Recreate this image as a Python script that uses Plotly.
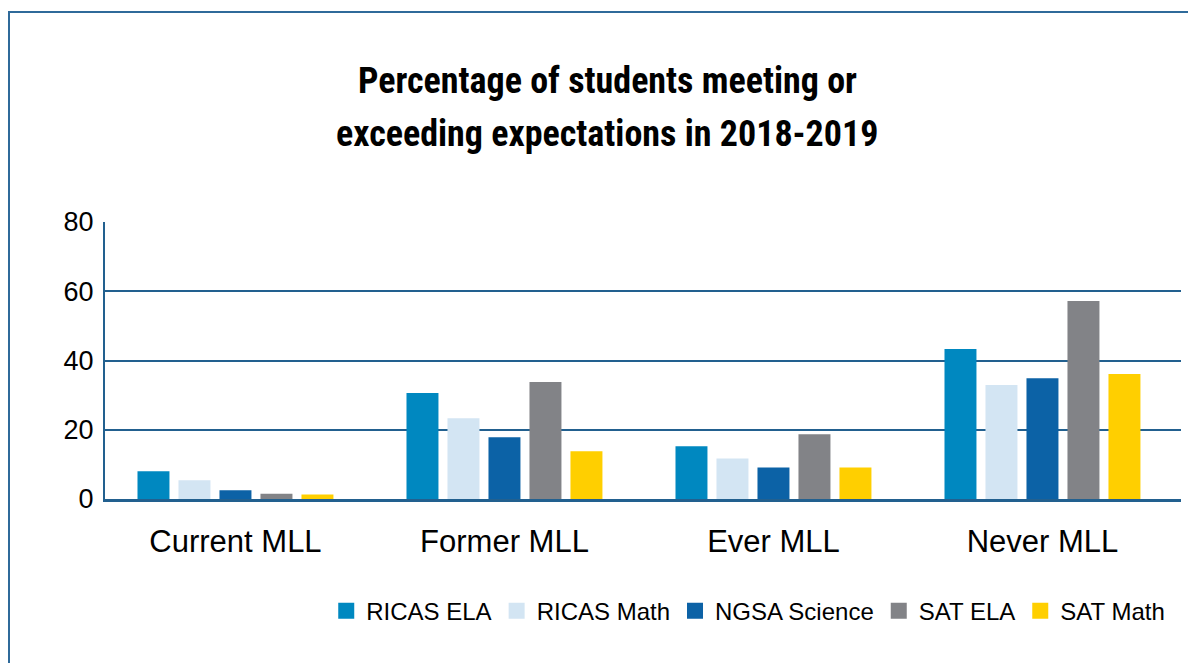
import plotly.graph_objects as go

categories = ["Current MLL", "Former MLL", "Ever MLL", "Never MLL"]
series_names = ["RICAS ELA", "RICAS Math", "NGSA Science", "SAT ELA", "SAT Math"]
ricas_ela = [8.0, 30.6, 15.2, 43.3]
ricas_math = [5.4, 23.3, 11.7, 32.9]
ngsa_science = [2.5, 17.8, 9.1, 34.9]
sat_ela = [1.5, 33.8, 18.7, 57.2]
sat_math = [1.3, 13.8, 9.1, 36.1]
y_ticks = [0, 20, 40, 60, 80]
title_lines = ["Percentage of students meeting or", "exceeding expectations in 2018-2019"]

colors = ["#0088c0", "#d3e5f3", "#0c62a6", "#828387", "#ffcf00"]
values = [ricas_ela, ricas_math, ngsa_science, sat_ela, sat_math]

AXIS_BLUE = "#22608f"
W, H = 1188, 655  # page has an 8px body margin
L, R, T, B = 97, 15, 214, 164
PW, PH = W - L - R, H - T - B

fig = go.Figure()
for name, vals, col in zip(series_names, values, colors):
    fig.add_trace(go.Bar(x=categories, y=vals, name=name, marker_color=col,
                         marker_line_width=0, showlegend=False))
for name, col in zip(series_names, colors):
    fig.add_trace(go.Scatter(x=[None], y=[None], mode="markers", name=name,
                             marker=dict(symbol="square", size=16, color=col)))

annots = []
for txt, yc in zip(title_lines, [73, 126]):
    annots.append(dict(text=txt, xref="paper", yref="paper",
                       x=(599 - L) / PW, y=(H - B - yc) / PH,
                       xanchor="center", yanchor="middle", showarrow=False,
                       font=dict(family='"Roboto Condensed", Roboto, sans-serif',
                                 size=36, color="black", weight="bold")))

fig.update_layout(
    width=W, height=H,
    margin=dict(l=L, r=R, t=T, b=B),
    paper_bgcolor="white", plot_bgcolor="white",
    barmode="group", bargap=0.238, bargroupgap=0.22,
    font=dict(family="Liberation Sans, Arial, sans-serif", color="black"),
    annotations=annots,
    legend=dict(orientation="h", x=0.99, xanchor="right", y=-0.405, yanchor="middle",
                font=dict(size=24, color="black"), itemsizing="trace",
                traceorder="normal", bgcolor="rgba(0,0,0,0)"),
    shapes=[dict(type="rect", xref="paper", yref="paper",
                 x0=(1 - L) / PW, x1=1.05, y0=-0.8, y1=(H - B - 4) / PH,
                 line=dict(color="#2f6a9a", width=2), fillcolor="rgba(0,0,0,0)",
                 layer="below")],
)
fig.update_xaxes(showline=True, linecolor=AXIS_BLUE, linewidth=3, ticks="",
                 range=[-0.485, 3.515],
                 tickfont=dict(size=31), ticklabelstandoff=13, showgrid=False)
fig.update_yaxes(range=[0, 80], tickvals=y_ticks, showgrid=True, gridcolor=AXIS_BLUE,
                 gridwidth=2, showline=True, linecolor=AXIS_BLUE, linewidth=2,
                 zeroline=False, ticks="", tickfont=dict(size=27), ticklabelstandoff=4)

fig.write_html("out.html")
